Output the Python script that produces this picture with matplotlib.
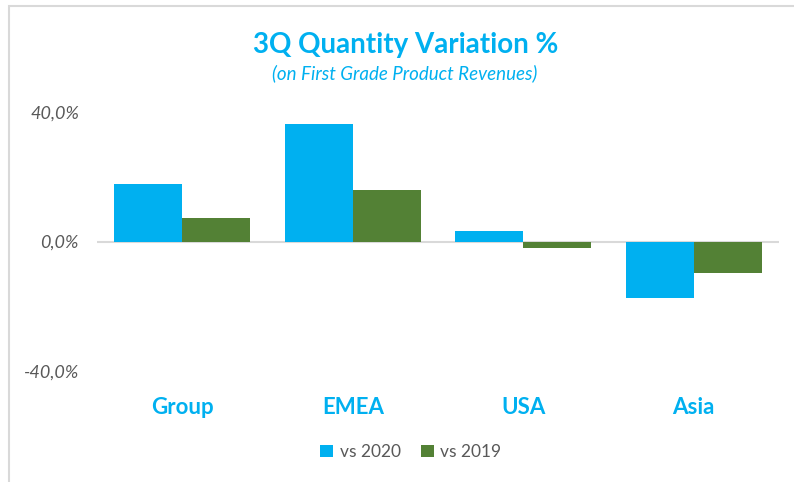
import matplotlib
matplotlib.use("Agg")
import matplotlib.pyplot as plt
import numpy as np
from matplotlib.patches import Rectangle

categories = ["Group", "EMEA", "USA", "Asia"]
vs2020 = [17.7, 36.3, 3.3, -17.3]
vs2019 = [7.2, 16.0, -1.9, -9.7]
series_names = ["vs 2020", "vs 2019"]
yticks = [-40, 0, 40]
ytick_labels = ["-40,0%", "0,0%", "40,0%"]

CYAN = "#00B0F0"
GREEN = "#538135"
GRAY = "#595959"

plt.rcParams['font.family'] = ['Lato', 'DejaVu Sans']

fig = plt.figure(figsize=(7.94, 4.82), dpi=100)
fig.patch.set_facecolor("white")
# outer chart border (top and left visible)
fig.patches.append(Rectangle((9/794, -0.1), 1.2, 1.1 - 5.5/482, transform=fig.transFigure,
                             fill=False, edgecolor="#D9D9D9", linewidth=1.5))

ax = fig.add_axes([97/794, 1 - 371/482, (779 - 97)/794, (371 - 112)/482])
x = np.arange(len(categories))
w = 0.4
ax.bar(x - w/2, vs2020, width=w, color=CYAN, label=series_names[0], zorder=2)
ax.bar(x + w/2, vs2019, width=w, color=GREEN, label=series_names[1], zorder=2)
ax.set_xlim(-0.5, len(categories) - 0.5)
ax.set_ylim(-40, 40)
ax.axhline(0, color="#D9D9D9", linewidth=1.5, zorder=1)
for s in ax.spines.values():
    s.set_visible(False)
ax.set_yticks(yticks)
ax.set_yticklabels(ytick_labels, fontstyle="italic", color=GRAY, fontsize=13)
ax.set_xticks(x)
ax.set_xticklabels(categories, fontweight="bold", color=CYAN, fontsize=16)
ax.tick_params(axis="y", length=0, pad=13)
ax.tick_params(axis="x", length=0, pad=19)

fig.text(406/794, 1 - 45/482, "3Q Quantity Variation %", ha="center", va="center",
         fontsize=20, fontweight="bold", color=CYAN)
fig.text(405/794, 1 - 73/482, "(on First Grade Product Revenues)", ha="center", va="center",
         fontsize=13.5, fontstyle="italic", color=CYAN)

leg = fig.legend(loc="center", bbox_to_anchor=(411/794, 1 - 452/482), ncol=2, frameon=False,
                 fontsize=12.5, handlelength=0.7, handleheight=0.7, handletextpad=0.4,
                 columnspacing=1.2)
for t in leg.get_texts():
    t.set_color(GRAY)

fig.savefig("out.png", dpi=100)
